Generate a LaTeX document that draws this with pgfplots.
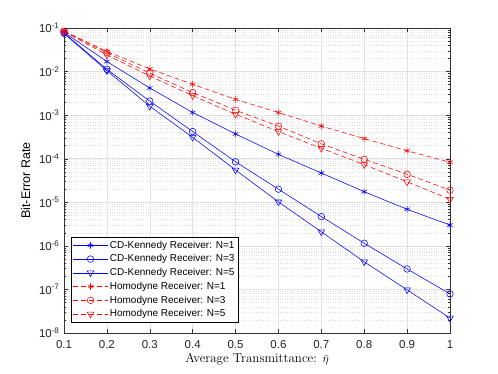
\documentclass[border=0pt]{standalone}
\usepackage{fontspec}
\setsansfont{Liberation Sans}
\usepackage{pgfplots}
\pgfplotsset{compat=1.18}

\definecolor{gridgray}{gray}{0.88}
\definecolor{axgray}{gray}{0.2}

\begin{document}
\begin{tikzpicture}
\path[use as bounding box] (-64pt,-41pt) rectangle (434pt,333pt);
\begin{axis}[
    at={(0pt,0pt)}, anchor=south west,
    scale only axis,
    width=386pt, height=305pt,
    ymode=log,
    xmin=0.1, xmax=1,
    ymin=1e-8, ymax=1e-1,
    xtick={0.1,0.2,...,1.0},
    xticklabels={0.1,0.2,0.3,0.4,0.5,0.6,0.7,0.8,0.9,1},
    ytick={1e-8,1e-7,1e-6,1e-5,1e-4,1e-3,1e-2,1e-1},
    yticklabels={10\textsuperscript{-8},10\textsuperscript{-7},10\textsuperscript{-6},10\textsuperscript{-5},10\textsuperscript{-4},10\textsuperscript{-3},10\textsuperscript{-2},10\textsuperscript{-1}},
    ticklabel style={font=\sffamily\fontsize{11.5}{13}\selectfont, text=black!85},
    xticklabel style={yshift=-4pt},
    yticklabel style={xshift=-1pt},
    tick align=inside,
    major tick length=4pt, minor tick length=2pt,
    tick style={axgray, line width=0.4pt},
    axis line style={axgray, line width=0.5pt},
    xmajorgrids, ymajorgrids, yminorgrids,
    major grid style={gridgray, line width=0.5pt},
    minor grid style={gridgray, dotted, line width=0.4pt},
    xlabel={Average Transmittance: $\bar{\eta}$},
    ylabel={\sffamily Bit-Error Rate},
    xlabel style={font=\fontsize{13}{15}\selectfont, yshift=2pt},
    ylabel style={font=\fontsize{12.5}{14}\selectfont, yshift=2pt},
    legend style={at={(0.018,0.034)}, anchor=south west, draw=black,
        font=\sffamily\fontsize{10}{12}\selectfont, inner sep=2pt,
        row sep=1pt, cells={anchor=west}},
    legend image code/.code={
        \draw[mark repeat=2, mark phase=2] plot coordinates {(0cm,0cm) (0.6cm,0cm) (1.2cm,0cm)};
    },
    every axis plot/.append style={line width=0.55pt},
]
% CD-Kennedy receiver
\addplot[blue, mark=asterisk, mark size=3.2pt] coordinates {
    (0.1,0.080) (0.2,0.017) (0.3,0.0042) (0.4,0.00115) (0.5,3.7e-4)
    (0.6,1.26e-4) (0.7,4.7e-5) (0.8,1.75e-5) (0.9,6.9e-6) (1.0,3.0e-6)
};
\addlegendentry{CD-Kennedy Receiver: N=1}
\addplot[blue, mark=o, mark size=3.3pt] coordinates {
    (0.1,0.077) (0.2,0.0113) (0.3,0.0021) (0.4,4.2e-4) (0.5,8.5e-5)
    (0.6,2.0e-5) (0.7,4.7e-6) (0.8,1.15e-6) (0.9,2.95e-7) (1.0,7.9e-8)
};
\addlegendentry{CD-Kennedy Receiver: N=3}
\addplot[blue, mark=triangle, mark size=3.8pt, mark options={rotate=180}] coordinates {
    (0.1,0.075) (0.2,0.0105) (0.3,0.0016) (0.4,3.1e-4) (0.5,5.5e-5)
    (0.6,1.02e-5) (0.7,2.1e-6) (0.8,4.3e-7) (0.9,9.8e-8) (1.0,2.2e-8)
};
\addlegendentry{CD-Kennedy Receiver: N=5}
% Homodyne receiver
\addplot[red, dash pattern=on 5pt off 3pt, mark=asterisk, mark size=3.2pt, mark options={solid}] coordinates {
    (0.1,0.085) (0.2,0.029) (0.3,0.0115) (0.4,0.0051) (0.5,0.0023)
    (0.6,0.00115) (0.7,5.6e-4) (0.8,2.9e-4) (0.9,1.52e-4) (1.0,8.3e-5)
};
\addlegendentry{Homodyne Receiver: N=1}
\addplot[red, dash pattern=on 5pt off 3pt, mark=o, mark size=3.3pt, mark options={solid}] coordinates {
    (0.1,0.084) (0.2,0.027) (0.3,0.0092) (0.4,0.0033) (0.5,0.0013)
    (0.6,5.6e-4) (0.7,2.2e-4) (0.8,9.7e-5) (0.9,4.4e-5) (1.0,1.9e-5)
};
\addlegendentry{Homodyne Receiver: N=3}
\addplot[red, dash pattern=on 5pt off 3pt, mark=triangle, mark size=3.8pt, mark options={solid, rotate=180}] coordinates {
    (0.1,0.083) (0.2,0.024) (0.3,0.0079) (0.4,0.0028) (0.5,0.00105)
    (0.6,4.2e-4) (0.7,1.74e-4) (0.8,7.3e-5) (0.9,2.95e-5) (1.0,1.17e-5)
};
\addlegendentry{Homodyne Receiver: N=5}
\end{axis}
\end{tikzpicture}
\end{document}
